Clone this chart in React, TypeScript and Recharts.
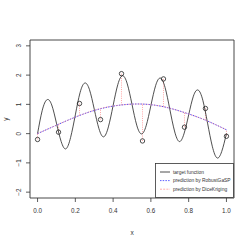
import React from 'react';
import { ComposedChart, Line, Scatter, XAxis, YAxis, ReferenceArea, ReferenceLine, Legend, Label } from 'recharts';

// target function (x step 0.025)
const targetX = [0, 0.025, 0.05, 0.075, 0.1, 0.125, 0.15, 0.175, 0.2, 0.225, 0.25, 0.275, 0.3, 0.325, 0.35, 0.375, 0.4, 0.425, 0.45, 0.475, 0.5, 0.525, 0.55, 0.575, 0.6, 0.625, 0.65, 0.675, 0.7, 0.725, 0.75, 0.775, 0.8, 0.825, 0.85, 0.875, 0.9, 0.925, 0.95, 0.975, 1.0];
const targetY = [0, 0.8, 1.16, 0.98, 0.36, -0.27, -0.52, -0.13, 0.64, 1.4, 1.73, 1.5, 0.84, 0.17, -0.11, 0.23, 0.96, 1.68, 1.98, 1.7, 1.0, 0.29, -0.01, 0.27, 0.96, 1.64, 1.9, 1.58, 0.84, 0.09, -0.27, -0.01, 0.64, 1.28, 1.49, 1.14, 0.36, -0.43, -0.83, -0.61, 0];

// observations
const obsX = [0, 0.1111, 0.2222, 0.3333, 0.4444, 0.5556, 0.6667, 0.7778, 0.8889, 1.0];
const obsY = [-0.2, 0.05, 1.03, 0.48, 2.05, -0.25, 1.87, 0.22, 0.86, -0.09];

// predictions at observation inputs
const predRobust = [0.0, 0.32, 0.62, 0.85, 0.98, 1.01, 0.92, 0.72, 0.46, 0.13];
const predDice = [0.0, 0.32, 0.62, 0.86, 0.98, 1.01, 0.92, 0.72, 0.46, 0.13];

const xTicks = [0, 0.2, 0.4, 0.6, 0.8, 1.0];
const yTicks = [-2, -1, 0, 1, 2, 3];
const legendLabels = ['target function', 'prediction by RobustGaSP', 'prediction by DiceKriging'];

const targetData = targetX.map((x, i) => ({ x, y: targetY[i] }));
const obsData = obsX.map((x, i) => ({ x, y: obsY[i] }));
const robustData = obsX.map((x, i) => ({ x, y: predRobust[i] }));
const diceData = obsX.map((x, i) => ({ x, y: predDice[i] }));

const FONT = '"Liberation Sans", Arial, sans-serif';
const TXT = '#333';

const YTick = (props: any) => {
  const { x, y, payload } = props;
  const cx = x - 5;
  const v = payload.value;
  const s = v < 0 ? '\u2212' + Math.abs(v) : String(v);
  return (
    <text x={cx} y={y} dy="0.35em" textAnchor="middle" fontSize={6.3} fontFamily={FONT} fill={TXT}
      transform={`rotate(-90, ${cx}, ${y})`}>{s}</text>
  );
};

const legendStyles = [
  { stroke: '#222', dash: undefined as string | undefined },
  { stroke: '#3333ff', dash: '1.5 1.2' },
  { stroke: '#ff9999', dash: '2 1.2' },
];

const renderLegend = () => (
  <svg width={79} height={35} style={{ display: 'block' }}>
    <rect x={0.5} y={0.5} width={78} height={34} fill="#fff" stroke="#333" strokeWidth={0.8} />
    {legendLabels.map((t, i) => {
      const yy = 9 + i * 8.6;
      return (
        <g key={t}>
          <line x1={5} x2={15} y1={yy} y2={yy} stroke={legendStyles[i].stroke} strokeWidth={0.8}
            strokeDasharray={legendStyles[i].dash} />
          <text x={18} y={yy} dy="0.35em" fontSize={4.9} fontFamily={FONT} fill={TXT}>{t}</text>
        </g>
      );
    })}
  </svg>
);

export default function App() {
  return (
    <div style={{ position: 'absolute', left: 0, top: 0, width: 249, height: 249, background: '#fff' }}>
      <ComposedChart width={249} height={249} margin={{ top: 40, right: 15, bottom: 0, left: 0 }}>
        <XAxis type="number" dataKey="x" domain={[-0.04, 1.04]} ticks={xTicks} allowDataOverflow
          tickFormatter={(v: number) => v.toFixed(1)} height={51} axisLine={false}
          tickSize={4} tickMargin={7} tickLine={{ stroke: '#333', strokeWidth: 0.8 }}
          tick={{ fontSize: 6.3, fontFamily: FONT, fill: TXT }}>
          <Label value="x" position="insideBottom" offset={14} fontSize={6.5} fontFamily={FONT} fill={TXT} />
        </XAxis>
        <YAxis type="number" dataKey="y" domain={[-2.2, 3.2]} ticks={yTicks} allowDataOverflow width={30}
          axisLine={false} tickSize={4} tickLine={{ stroke: '#333', strokeWidth: 0.8 }} tick={<YTick />}>
          <Label content={(p: any) => {
            const vb = p.viewBox || { x: 0, y: 40, width: 30, height: 158 };
            const cx = vb.x + 6;
            const cy = vb.y + vb.height / 2;
            return (
              <text x={cx} y={cy} dy="0.35em" textAnchor="middle" fontSize={6.5} fontFamily={FONT} fill={TXT}
                transform={`rotate(-90, ${cx}, ${cy})`}>y</text>
            );
          }} />
        </YAxis>
        <ReferenceArea x1={-0.04} x2={1.04} y1={-2.2} y2={3.2} fill="none" stroke="#333" strokeWidth={0.9}
          ifOverflow="visible" />
        {obsX.map((x, i) => (
          <ReferenceLine key={i} segment={[{ x, y: obsY[i] }, { x, y: predDice[i] }]}
            stroke="#ff9090" strokeWidth={0.8} strokeDasharray="1 1.2" ifOverflow="visible" />
        ))}
        <Line data={targetData} dataKey="y" type="natural" stroke="#222" strokeWidth={0.8} dot={false}
          isAnimationActive={false} legendType="none" />
        <Line data={robustData} dataKey="y" type="natural" stroke="#3333ff" strokeWidth={0.9}
          strokeDasharray="1.5 1.2" dot={false} isAnimationActive={false} />
        <Line data={diceData} dataKey="y" type="natural" stroke="#ff8888" strokeWidth={0.8} strokeOpacity={0.7}
          strokeDasharray="2 1.2" dot={false} isAnimationActive={false} />
        <Scatter data={obsData} dataKey="y" isAnimationActive={false}
          shape={(p: any) => <circle cx={p.cx} cy={p.cy} r={2.2} fill="none" stroke="#222" strokeWidth={0.8} />} />
        <Legend layout="horizontal" verticalAlign="middle" align="center" content={renderLegend}
          wrapperStyle={{ position: 'absolute', left: 155, top: 163, width: 79, height: 35 }} />
      </ComposedChart>
    </div>
  );
}
